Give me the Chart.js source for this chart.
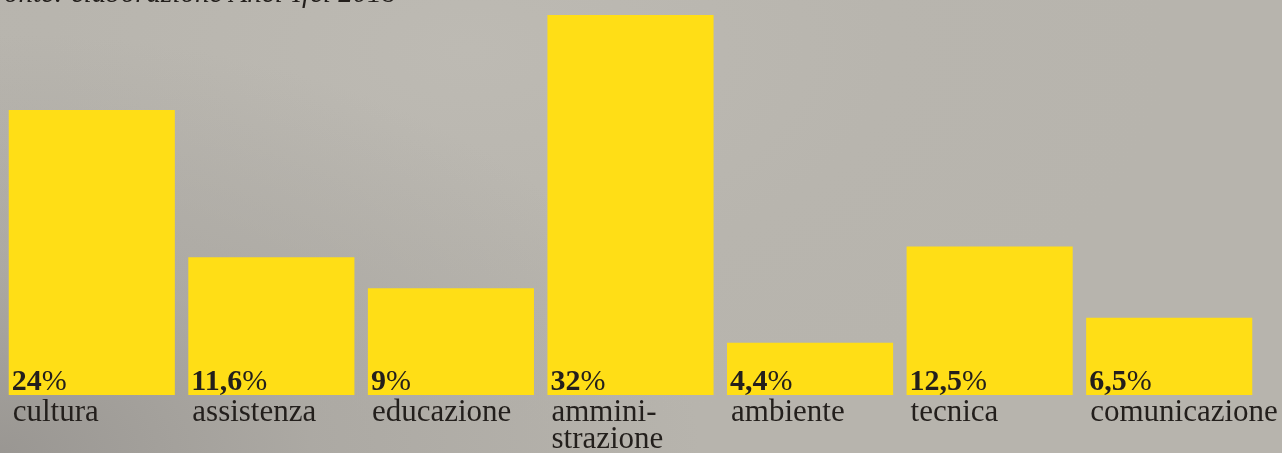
<!DOCTYPE html>
<html>
<head>
<meta charset="utf-8">
<script src="https://cdn.jsdelivr.net/npm/chart.js@4.4.1/dist/chart.umd.min.js"></script>
<style>
  html, body { margin: 0; padding: 0; }
  body {
    width: 1282px; height: 453px; overflow: hidden;
    background:
      radial-gradient(ellipse 700px 420px at 0px 453px, rgba(152,149,145,0.95) 0%, rgba(165,162,157,0.6) 45%, rgba(180,177,170,0) 100%),
      radial-gradient(ellipse 700px 380px at 470px 50px, #bdbab3 0%, #b8b5ae 60%, #b7b4ad 100%);
  }
  #wrap { position: relative; width: 1282px; height: 453px; }
</style>
</head>
<body>
<div id="wrap"><canvas id="chartcontainer"></canvas></div>
<script>
// categories (label lines) and shares in percent
const categories = [["cultura"], ["assistenza"], ["educazione"], ["ammini-", "strazione"], ["ambiente"], ["tecnica"], ["comunicazione"]];
const values = [24, 11.6, 9, 32, 4.4, 12.5, 6.5];
const valueLabels = ["24", "11,6", "9", "32", "4,4", "12,5", "6,5"];
const sourceNote = "fonte: elaborazione Anci-Ifel 2018";

const serif = "'Liberation Serif', 'Times New Roman', serif";

// writes the value and the category name under each bar
const barLabels = {
    id: "barLabels",
    afterDatasetsDraw: function (chart) {
        const ctx = chart.ctx;
        const meta = chart.getDatasetMeta(0);
        ctx.save();
        ctx.fillStyle = "#231f1c";
        ctx.textBaseline = "alphabetic";
        meta.data.forEach(function (bar, i) {
            const left = bar.x - bar.width / 2;
            const bottom = bar.base;
            // value: bold number + regular %
            ctx.font = "bold 30px " + serif;
            const num = valueLabels[i];
            ctx.fillText(num, left + 3, bottom - 5);
            const w = ctx.measureText(num).width;
            ctx.font = "30px " + serif;
            ctx.fillText("%", left + 3 + w, bottom - 5);
            // category name
            ctx.font = "31px " + serif;
            categories[i].forEach(function (line, j) {
                ctx.fillText(line, left + 4, bottom + 26 + j * 27);
            });
        });
        // cut-off source note at the top
        ctx.font = "italic 29px " + serif;
        ctx.fillText(sourceNote, -4, 2);
        ctx.restore();
    }
};

const options = {
    type: "bar",
    data: {
        labels: categories.map(function (c) { return c.join(" "); }),
        datasets: [
            {
                data: values,
                backgroundColor: "#ffde16",
                borderWidth: 0,
                barPercentage: 0.925,
                categoryPercentage: 1.0,
            },
        ],
    },
    options: {
        responsive: true,
        maintainAspectRatio: false,
        animation: false,
        layout: {
            padding: {
                left: 2,
                right: 23,
                top: 15,
                bottom: 58,
            },
        },
        scales: {
            x: {
                display: false,
            },
            y: {
                display: false,
                min: 0,
                max: 32,
            }
        },
        plugins: {
            legend: { display: false },
            tooltip: { enabled: false },
        },
    },
    plugins: [barLabels],
};
const ctx = document.getElementById("chartcontainer").getContext("2d");
const chart = new Chart(ctx, options);
</script>
</body>
</html>
